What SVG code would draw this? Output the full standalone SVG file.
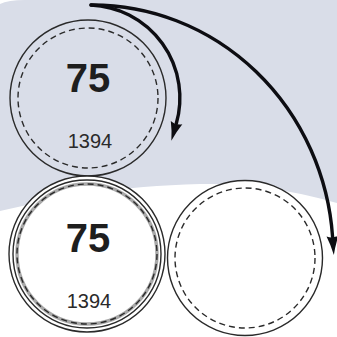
<svg xmlns="http://www.w3.org/2000/svg" width="337" height="337" viewBox="0 0 337 337">
<style>
.ring{fill:none;stroke:#2a2a2a;stroke-width:1.4}
.dash{fill:none;stroke:#2a2a2a;stroke-width:1.4;stroke-dasharray:6 4}
.big{font-family:"Liberation Sans",Arial,sans-serif;font-weight:bold;font-size:40px;fill:#1e1e1e;text-anchor:middle}
.small{font-family:"Liberation Sans",Arial,sans-serif;font-size:20px;fill:#2a2a2a;text-anchor:middle}
.edge{fill:none;stroke:#0d0d12;stroke-width:3.4;stroke-linecap:round}
</style>
<defs>
<marker id="arr" markerUnits="userSpaceOnUse" markerWidth="24" markerHeight="16" viewBox="-1 -8 24 16" refX="1" refY="0" orient="auto">
<path d="M0,-6 Q9,-2.2 19,0 Q9,2.2 0,6 Q3,0 0,-6 Z" fill="#0d0d12"/>
</marker>
</defs>
<rect width="337" height="337" fill="#ffffff"/>
<path d="M0,4 Q8,0 25,0 L337,0 L337,203 C300,192 250,183 200,184 C120,186 60,197 0,211 Z" fill="#d9dde8"/>
<g id="node-top">
<circle class="ring" cx="88" cy="98" r="78"/>
<circle class="dash" cx="88" cy="98" r="70"/>
<text class="big" x="88" y="92">75</text>
<text class="small" x="90" y="148">1394</text>
</g>
<g id="node-bottom-left">
<circle cx="87" cy="254" r="78" fill="#ffffff" stroke="#2a2a2a" stroke-width="1.4"/>
<circle class="ring" cx="87" cy="254" r="74"/>
<circle cx="87" cy="254" r="70" fill="none" stroke="#a8a8a8" stroke-width="3.4"/>
<circle class="dash" cx="87" cy="254" r="70"/>
<text class="big" x="88" y="252">75</text>
<text class="small" x="89" y="308">1394</text>
</g>
<g id="node-bottom-right">
<circle cx="245" cy="258" r="77.5" fill="#ffffff" stroke="#2a2a2a" stroke-width="1.4"/>
<circle class="dash" cx="245" cy="258" r="70"/>
</g>
<g id="connectors">
<path class="edge" d="M91,5 A93,93 0 0 1 176.3,123.5" marker-end="url(#arr)"/>
<path class="edge" d="M91,5 A241,250 0 0 1 332.6,237" marker-end="url(#arr)"/>
</g>
</svg>
